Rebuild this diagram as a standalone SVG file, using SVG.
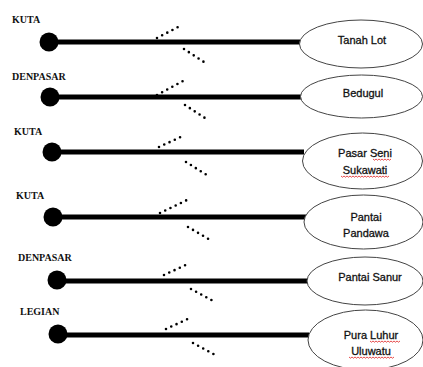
<svg xmlns="http://www.w3.org/2000/svg" width="423" height="367" viewBox="0 0 423 367">
<style>
.lbl{font-family:"Liberation Serif",serif;font-weight:bold;font-size:10px;fill:#111}
.dst{font-family:"Liberation Sans",Arial,sans-serif;font-size:11px;fill:#111;stroke:#111;stroke-width:0.3;text-anchor:middle}
.ell{fill:#fff;stroke:#444;stroke-width:1}
.bar{stroke:#000;stroke-width:5}
.dot{fill:#000}
.dash{stroke:#000;stroke-width:2.6;stroke-linecap:round;stroke-dasharray:0 5.8;fill:none}
.wavy{stroke:#e02020;stroke-width:0.8;fill:none}
</style>
<rect width="423" height="367" fill="#fff"/>
<g id="connectors">
<line class="bar" x1="49" y1="42" x2="300" y2="42"/>
<line class="bar" x1="50" y1="97" x2="301" y2="97"/>
<line class="bar" x1="52" y1="152" x2="304" y2="152"/>
<line class="bar" x1="53" y1="217" x2="306" y2="217"/>
<line class="bar" x1="57" y1="281" x2="308" y2="281"/>
<line class="bar" x1="58" y1="335" x2="309" y2="335"/>
<path class="dash" d="M157 38 L182 25 M184 49 L207 64"/>
<path class="dash" d="M157 95 L183 81 M185 105 L208 120"/>
<path class="dash" d="M159 147 L185 135 M186 162 L210 177"/>
<path class="dash" d="M160 213 L187 200 M188 227 L212 241"/>
<path class="dash" d="M164 275 L190 263 M191 289 L215 302"/>
<path class="dash" d="M166 329 L192 317 M193 343 L217 356"/>
</g>
<g id="src1"><circle class="dot" cx="49" cy="42" r="9.5"/><text class="lbl" x="12" y="23">KUTA</text></g>
<g id="src2"><circle class="dot" cx="50" cy="97" r="9.5"/><text class="lbl" x="12" y="80">DENPASAR</text></g>
<g id="src3"><circle class="dot" cx="52" cy="152" r="9.5"/><text class="lbl" x="14" y="135">KUTA</text></g>
<g id="src4"><circle class="dot" cx="53" cy="217" r="9.5"/><text class="lbl" x="16" y="199">KUTA</text></g>
<g id="src5"><circle class="dot" cx="57" cy="280" r="9.5"/><text class="lbl" x="18" y="261">DENPASAR</text></g>
<g id="src6"><circle class="dot" cx="58" cy="334" r="9.5"/><text class="lbl" x="20" y="315">LEGIAN</text></g>
<g id="dst1"><ellipse class="ell" cx="361" cy="44" rx="61.5" ry="24"/><text class="dst" x="362" y="44">Tanah Lot</text></g>
<g id="dst2"><ellipse class="ell" cx="361.5" cy="96.5" rx="61" ry="21.5"/><text class="dst" x="363" y="97">Bedugul</text></g>
<g id="dst3"><ellipse class="ell" cx="362.5" cy="161" rx="60" ry="28"/><text class="dst" x="365" y="157">Pasar Seni</text><text class="dst" x="365" y="174">Sukawati</text>
<path class="wavy" d="M373 159 l1.5 1.2 l1.5 -1.2 l1.5 1.2 l1.5 -1.2 l1.5 1.2 l1.5 -1.2 l1.5 1.2 l1.5 -1.2 l1.5 1.2 l1.5 -1.2 l1.5 1.2 l1.5 -1.2 M341 176 l1.5 1.2 l1.5 -1.2 l1.5 1.2 l1.5 -1.2 l1.5 1.2 l1.5 -1.2 l1.5 1.2 l1.5 -1.2 l1.5 1.2 l1.5 -1.2 l1.5 1.2 l1.5 -1.2 l1.5 1.2 l1.5 -1.2 l1.5 1.2 l1.5 -1.2 l1.5 1.2 l1.5 -1.2 l1.5 1.2 l1.5 -1.2 l1.5 1.2 l1.5 -1.2 l1.5 1.2 l1.5 -1.2 l1.5 1.2 l1.5 -1.2 l1.5 1.2 l1.5 -1.2 l1.5 1.2 l1.5 -1.2 l1.5 1.2 l1.5 -1.2"/></g>
<g id="dst4"><ellipse class="ell" cx="363.5" cy="222" rx="59.5" ry="27"/><text class="dst" x="366" y="221">Pantai</text><text class="dst" x="366" y="237">Pandawa</text></g>
<g id="dst5"><ellipse class="ell" cx="365" cy="281" rx="58" ry="24"/><text class="dst" x="370" y="281">Pantai Sanur</text></g>
<g id="dst6"><ellipse class="ell" cx="365.5" cy="340" rx="57.5" ry="30"/><text class="dst" x="371" y="339">Pura Luhur</text><text class="dst" x="371" y="355">Uluwatu</text>
<path class="wavy" d="M370 341 l1.5 1.2 l1.5 -1.2 l1.5 1.2 l1.5 -1.2 l1.5 1.2 l1.5 -1.2 l1.5 1.2 l1.5 -1.2 l1.5 1.2 l1.5 -1.2 l1.5 1.2 l1.5 -1.2 l1.5 1.2 l1.5 -1.2 l1.5 1.2 l1.5 -1.2 l1.5 1.2 l1.5 -1.2 l1.5 1.2 l1.5 -1.2 M349 357 l1.5 1.2 l1.5 -1.2 l1.5 1.2 l1.5 -1.2 l1.5 1.2 l1.5 -1.2 l1.5 1.2 l1.5 -1.2 l1.5 1.2 l1.5 -1.2 l1.5 1.2 l1.5 -1.2 l1.5 1.2 l1.5 -1.2 l1.5 1.2 l1.5 -1.2 l1.5 1.2 l1.5 -1.2 l1.5 1.2 l1.5 -1.2 l1.5 1.2 l1.5 -1.2 l1.5 1.2 l1.5 -1.2 l1.5 1.2 l1.5 -1.2 l1.5 1.2 l1.5 -1.2 l1.5 1.2 l1.5 -1.2"/></g>
</svg>
